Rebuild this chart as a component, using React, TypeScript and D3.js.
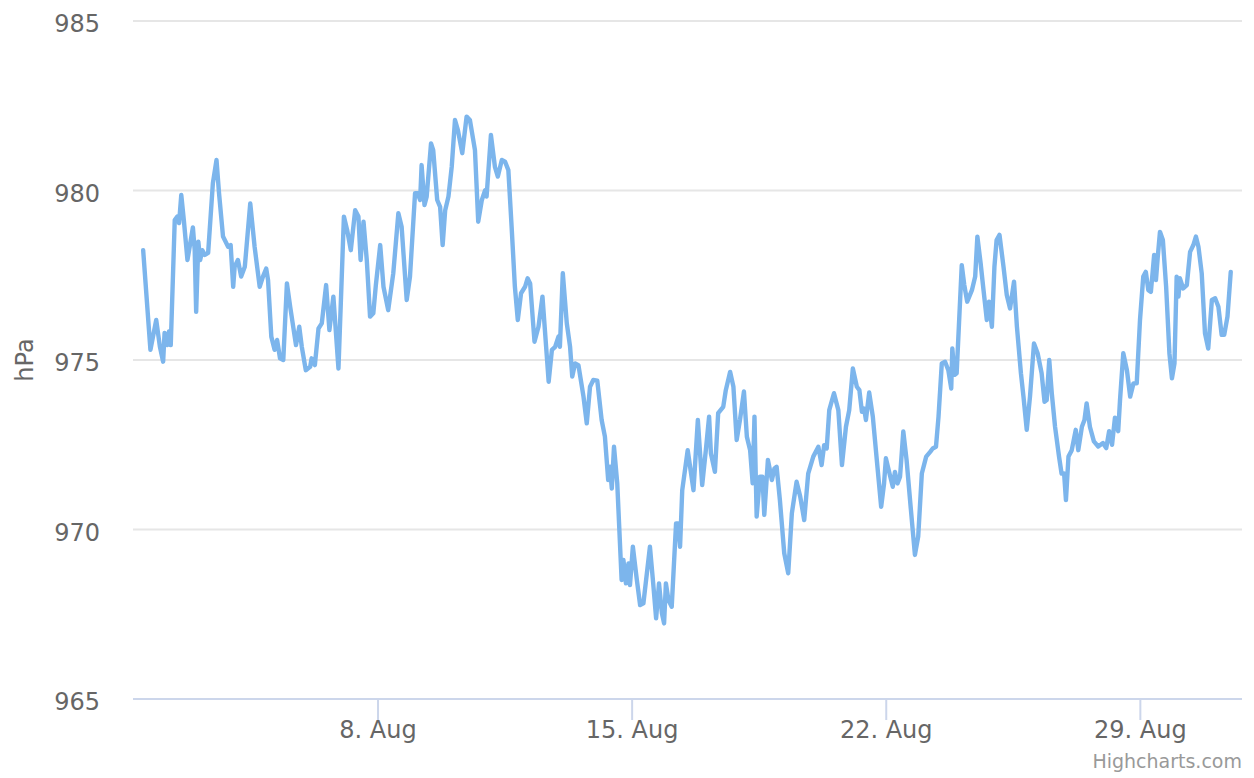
import React from "react";
import * as d3 from "d3";

// Time in fractional day-of-month (August), pressure in hPa
const days: number[] = [
  1.53, 1.73, 1.89, 1.99, 2.08, 2.12, 2.19, 2.24, 2.29, 2.40, 2.47, 2.52, 2.58, 2.65, 2.75, 2.90, 2.95, 2.99,
  3.05, 3.10, 3.16, 3.23, 3.32, 3.45, 3.55, 3.62, 3.73, 3.87, 3.94, 4.01, 4.05, 4.14, 4.23, 4.33, 4.48, 4.60,
  4.74, 4.83, 4.92, 4.97, 5.06, 5.15, 5.22, 5.30, 5.39, 5.49, 5.58, 5.74, 5.83, 5.90, 6.01, 6.13, 6.17, 6.26,
  6.36, 6.45, 6.57, 6.66, 6.77, 6.91, 7.06, 7.15, 7.25, 7.37, 7.46, 7.52, 7.60, 7.69, 7.78, 7.87, 7.94, 8.06,
  8.15, 8.28, 8.42, 8.56, 8.65, 8.79, 8.88, 9.02, 9.09, 9.16, 9.20, 9.28, 9.34, 9.46, 9.52, 9.63, 9.71, 9.78,
  9.85, 9.94, 10.03, 10.12, 10.20, 10.32, 10.44, 10.53, 10.67, 10.76, 10.86, 10.95, 10.99, 11.11, 11.22, 11.30,
  11.41, 11.50, 11.59, 11.68, 11.77, 11.85, 11.94, 12.05, 12.12, 12.19, 12.31, 12.42, 12.53, 12.70, 12.79, 12.88,
  12.97, 13.01, 13.09, 13.20, 13.29, 13.35, 13.43, 13.52, 13.66, 13.75, 13.84, 13.93, 14.04, 14.16, 14.25, 14.34,
  14.39, 14.44, 14.50, 14.59, 14.71, 14.76, 14.83, 14.90, 14.94, 15.02, 15.13, 15.22, 15.31, 15.49, 15.58, 15.66,
  15.74, 15.82, 15.88, 15.93, 16.00, 16.09, 16.21, 16.27, 16.32, 16.38, 16.53, 16.69, 16.81, 16.93, 17.03, 17.12,
  17.17, 17.28, 17.37, 17.51, 17.58, 17.70, 17.79, 17.88, 17.97, 18.08, 18.16, 18.25, 18.32, 18.37, 18.43, 18.52,
  18.59, 18.64, 18.74, 18.85, 18.92, 18.98, 19.07, 19.19, 19.30, 19.40, 19.53, 19.63, 19.74, 19.85, 19.99, 20.13,
  20.22, 20.29, 20.36, 20.43, 20.56, 20.68, 20.78, 20.89, 20.98, 21.08, 21.19, 21.26, 21.33, 21.39, 21.44, 21.53,
  21.63, 21.74, 21.86, 21.94, 21.99, 22.10, 22.18, 22.24, 22.31, 22.38, 22.47, 22.56, 22.68, 22.79, 22.88, 22.98,
  23.10, 23.21, 23.28, 23.37, 23.44, 23.53, 23.62, 23.71, 23.79, 23.82, 23.88, 23.94, 24.08, 24.15, 24.23, 24.36,
  24.45, 24.51, 24.60, 24.68, 24.77, 24.83, 24.91, 24.98, 25.04, 25.12, 25.23, 25.32, 25.41, 25.52, 25.60, 25.71,
  25.78, 25.87, 25.96, 26.07, 26.17, 26.28, 26.36, 26.42, 26.49, 26.56, 26.65, 26.76, 26.83, 26.90, 26.95, 27.02,
  27.11, 27.22, 27.29, 27.39, 27.46, 27.52, 27.61, 27.72, 27.84, 27.97, 28.06, 28.14, 28.22, 28.30, 28.39, 28.44,
  28.53, 28.63, 28.72, 28.81, 28.90, 28.99, 29.08, 29.15, 29.22, 29.29, 29.38, 29.43, 29.48, 29.54, 29.62, 29.71,
  29.80, 29.87, 29.94, 30.00, 30.05, 30.09, 30.18, 30.28, 30.37, 30.46, 30.53, 30.60, 30.69, 30.78, 30.87, 30.97,
  31.06, 31.15, 31.24, 31.31, 31.40, 31.49,
];

const pressure: number[] = [
  978.24, 975.3, 976.18, 975.4, 974.95, 975.8, 975.44, 975.84, 975.44, 979.13, 979.23, 979.04, 979.87, 979.13, 977.95, 978.91, 978.24, 976.42,
  978.49, 977.95, 978.24, 978.1, 978.16, 980.21, 980.9, 979.92, 978.64, 978.34, 978.39, 977.16, 977.75, 977.95, 977.46, 977.75, 979.62, 978.34,
  977.16, 977.46, 977.7, 977.36, 975.69, 975.3, 975.59, 975.05, 975.0, 977.26, 976.57, 975.44, 975.98, 975.39, 974.7, 974.8, 975.05, 974.85,
  975.93, 976.08, 977.21, 975.88, 976.87, 974.75, 979.23, 978.83, 978.24, 979.42, 979.23, 977.95, 979.08, 977.95, 976.28, 976.38, 977.21, 978.39,
  977.16, 976.47, 977.56, 979.33, 978.93, 976.77, 977.46, 979.92, 979.92, 979.72, 980.75, 979.57, 979.82, 981.39, 981.19, 979.72, 979.52, 978.39,
  979.42, 979.82, 980.7, 982.08, 981.78, 981.1, 982.18, 982.08, 981.19, 979.08, 979.72, 980.01, 979.82, 981.64, 980.7, 980.41,
  980.9, 980.85, 980.6, 978.93, 977.16, 976.18, 976.97, 977.16, 977.41, 977.26, 975.54, 975.98, 976.87, 974.36, 975.3, 975.39,
  975.69, 975.39, 977.56, 976.08, 975.39, 974.51, 974.9, 974.85, 973.92, 973.13, 974.21, 974.41, 974.39, 973.23, 972.74, 971.46,
  971.85, 971.21, 972.44, 971.36, 968.51, 969.1, 968.41, 969.0, 968.36, 969.49, 968.51, 967.77, 967.82, 969.49, 968.41, 967.38,
  968.41, 967.53, 967.23, 968.41, 967.92, 967.72, 970.18, 970.18, 969.49, 971.16, 972.34, 971.16, 973.23, 971.31, 972.34, 973.33,
  972.24, 971.7, 973.43, 973.62, 974.11, 974.65, 974.21, 972.64, 973.23, 974.07, 972.74, 972.34, 971.36, 973.33, 970.38, 971.56,
  971.56, 970.43, 972.05, 971.46, 971.8, 971.85, 970.87, 969.3, 968.71, 970.48, 971.41, 970.97, 970.28, 971.65, 972.15, 972.44,
  971.9, 972.49, 972.39, 973.52, 974.02, 973.52, 971.9, 973.03, 973.52, 974.75, 974.21, 974.11, 973.47, 973.57, 973.23, 974.04,
  973.33, 972.05, 970.67, 971.36, 972.1, 971.61, 971.26, 971.7, 971.36, 971.56, 972.89, 972.05, 970.57, 969.25, 969.79, 971.65,
  972.15, 972.29, 972.39, 972.44, 973.33, 974.9, 974.95, 974.7, 974.16, 975.34, 974.56, 974.61, 977.8, 977.21, 976.72, 977.06,
  977.46, 978.64, 977.85, 977.06, 976.18, 976.72, 975.98, 977.75, 978.54, 978.69, 977.75, 976.92, 976.52, 977.31, 975.98, 974.61,
  973.92, 972.94, 973.92, 975.49, 975.2, 974.61, 973.77, 973.82, 975.0, 974.02, 973.03, 972.15, 971.65, 971.65, 970.87, 972.15,
  972.34, 972.94, 972.34, 973.03, 973.23, 973.72, 973.03, 972.6, 972.45, 972.55, 972.4, 972.9, 972.5, 973.3, 972.9, 973.82,
  975.2, 974.7, 973.92, 974.31, 974.31, 976.18, 977.46, 977.6, 977.06, 977.01, 978.1, 977.36, 978.05, 978.78, 978.54, 977.16,
  975.2, 974.46, 974.9, 977.46, 976.87, 977.41, 977.11, 977.21, 978.19, 978.39, 978.64, 978.34, 977.56, 975.79, 975.34, 976.77,
  976.82, 976.57, 975.74, 975.74, 976.28, 977.6,
];

const xTickDays: number[] = [8, 15, 22, 29];
const xTickLabels: string[] = ["8. Aug", "15. Aug", "22. Aug", "29. Aug"];
const yTicks: number[] = [965, 970, 975, 980, 985];
const yTitle = "hPa";
const credit = "Highcharts.com";

const W = 1254;
const H = 778;
const plotLeft = 133;
const plotRight = 1242;
const plotTop = 21;
const plotBottom = 699;
const FONT = "'DejaVu Sans', sans-serif";

export default function App() {
  const x = d3.scaleLinear().domain([1.25, 31.8]).range([plotLeft, plotRight]);
  const y = d3.scaleLinear().domain([965, 985]).range([plotBottom, plotTop]);
  const pts: [number, number][] = days.map((d, i) => [d, pressure[i]]);
  const line = d3
    .line<[number, number]>()
    .x((p) => x(p[0]))
    .y((p) => y(p[1]))
    .curve(d3.curveLinear);

  return (
    <svg
      width={W}
      height={H}
      style={{ position: "absolute", left: 0, top: 0, background: "#fff" }}
      fontFamily={FONT}
    >
      <rect x={0} y={0} width={W} height={H} fill="#ffffff" />
      {yTicks
        .filter((t) => t !== 965)
        .map((t) => (
          <line
            key={"g" + t}
            x1={plotLeft}
            x2={plotRight}
            y1={y(t)}
            y2={y(t)}
            stroke="#e6e6e6"
            strokeWidth={2}
          />
        ))}
      {yTicks.map((t) => (
        <text
          key={"yl" + t}
          x={100}
          y={y(t) + 11}
          textAnchor="end"
          fontSize={24}
          fill="#666666"
        >
          {t}
        </text>
      ))}
      <text
        transform={`translate(33, ${(plotTop + plotBottom) / 2}) rotate(-90)`}
        textAnchor="middle"
        fontSize={24}
        fill="#666666"
      >
        {yTitle}
      </text>
      <line
        x1={plotLeft}
        x2={plotRight}
        y1={plotBottom}
        y2={plotBottom}
        stroke="#ccd6eb"
        strokeWidth={2}
      />
      {xTickDays.map((d, i) => (
        <g key={"xt" + d}>
          <line
            x1={x(d)}
            x2={x(d)}
            y1={plotBottom}
            y2={plotBottom + 21}
            stroke="#ccd6eb"
            strokeWidth={2}
          />
          <text
            x={x(d)}
            y={738}
            textAnchor="middle"
            fontSize={24}
            fill="#666666"
          >
            {xTickLabels[i]}
          </text>
        </g>
      ))}
      <path
        d={line(pts) || ""}
        fill="none"
        stroke="#7cb5ec"
        strokeWidth={4.4}
        strokeLinejoin="round"
        strokeLinecap="round"
      />
      <text
        x={1242}
        y={768}
        textAnchor="end"
        fontSize={19}
        fill="#999999"
      >
        {credit}
      </text>
    </svg>
  );
}
